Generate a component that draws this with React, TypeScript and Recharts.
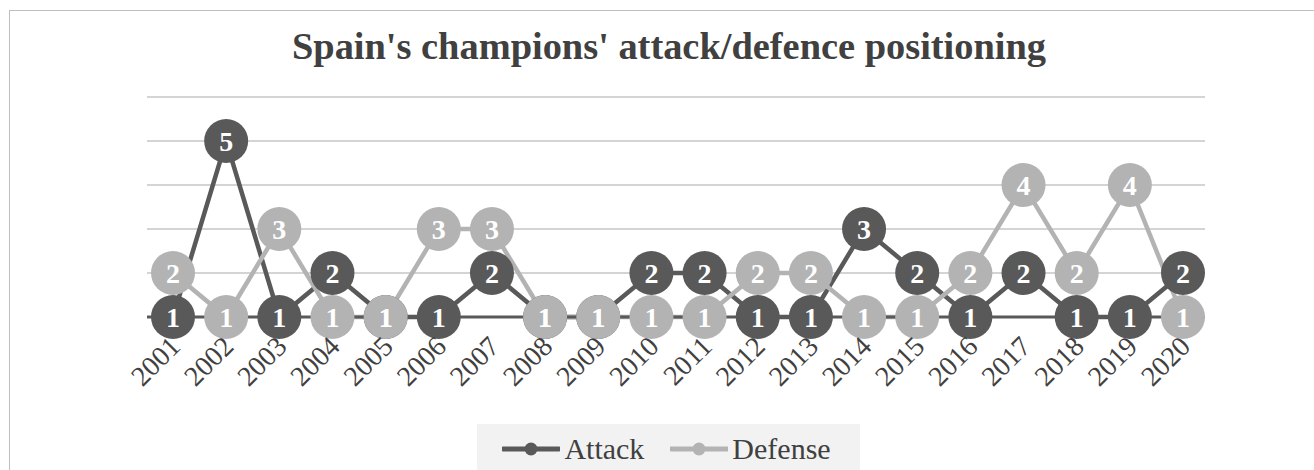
import React from 'react';
import { LineChart, Line, XAxis, YAxis, CartesianGrid, LabelList } from 'recharts';

const years = [
  '2001', '2002', '2003', '2004', '2005', '2006', '2007', '2008', '2009', '2010',
  '2011', '2012', '2013', '2014', '2015', '2016', '2017', '2018', '2019', '2020',
];
const attack = [1, 5, 1, 2, 1, 1, 2, 1, 1, 2, 2, 1, 1, 3, 2, 1, 2, 1, 1, 2];
const defense = [2, 1, 3, 1, 1, 3, 3, 1, 1, 1, 1, 2, 2, 1, 1, 2, 4, 2, 4, 1];
const yTicks = [1, 2, 3, 4, 5, 6];

const ATTACK_COLOR = '#595959';
const DEFENSE_COLOR = '#b3b3b3';
const SERIF = '"Liberation Serif", "Times New Roman", serif';

const data = years.map((year, i) => ({ year, attack: attack[i], defense: defense[i] }));

// rotated year labels under the axis
const YearTick = (props: any) => {
  const { x, payload } = props;
  const ax = x + 9;
  const ay = 306 + 31;
  return (
    <text
      x={ax}
      y={ay}
      transform={`rotate(-45, ${ax}, ${ay})`}
      textAnchor="end"
      fontFamily={SERIF}
      fontSize={28}
      fill="#404040"
    >
      {payload.value}
    </text>
  );
};

const makeDot = (color: string) => (props: any) => {
  const { cx, cy, index } = props;
  return <circle key={`d-${index}`} cx={cx} cy={cy} r={22} fill={color} stroke="none" />;
};

const renderLabel = (props: any) => {
  const { x, y, value, index } = props;
  return (
    <text
      key={`l-${index}`}
      x={x}
      y={y + 10}
      textAnchor="middle"
      fontFamily={SERIF}
      fontWeight="bold"
      fontSize={28}
      fill="#ffffff"
    >
      {value}
    </text>
  );
};

const LegendItem = ({ color, label }: { color: string; label: string }) => (
  <div style={{ display: 'flex', alignItems: 'center', marginRight: 26 }}>
    <svg width={58} height={14} style={{ marginRight: 4 }}>
      <line x1={1} y1={7} x2={57} y2={7} stroke={color} strokeWidth={5} strokeLinecap="round" />
      <circle cx={29} cy={7} r={6.5} fill={color} />
    </svg>
    <span style={{ fontFamily: SERIF, fontSize: 30, color: '#404040', lineHeight: '30px' }}>{label}</span>
  </div>
);

const App: React.FC = () => {
  return (
    <div
      style={{
        position: 'absolute',
        left: 9,
        top: 10,
        width: 1305,
        height: 460,
        borderLeft: '1px solid #bfbfbf',
        borderTop: '1px solid #bfbfbf',
        background: '#ffffff',
        overflow: 'hidden',
      }}
    >
      <div
        style={{
          position: 'absolute',
          top: 13,
          left: 0,
          width: 1318,
          textAlign: 'center',
          fontFamily: SERIF,
          fontWeight: 'bold',
          fontSize: 38.4,
          color: '#404040',
        }}
      >
        Spain's champions' attack/defence positioning
      </div>
      <LineChart
        width={1304}
        height={459}
        data={data}
        margin={{ top: 86, right: 109, bottom: 93, left: 137 }}
      >
        <CartesianGrid horizontal vertical={false} stroke="#d4d4d4" strokeWidth={2} />
        <YAxis hide domain={[1, 6]} ticks={yTicks} type="number" />
        <XAxis
          dataKey="year"
          interval={0}
          padding={{ left: 26, right: 22 }}
          tickLine={false}
          axisLine={{ stroke: ATTACK_COLOR, strokeWidth: 3 }}
          tick={<YearTick />}
          height={60}
        />
        <Line
          dataKey="attack"
          stroke={ATTACK_COLOR}
          strokeWidth={4.5}
          dot={makeDot(ATTACK_COLOR)}
          activeDot={false}
          isAnimationActive={false}
        >
          <LabelList dataKey="attack" content={renderLabel} />
        </Line>
        <Line
          dataKey="defense"
          stroke={DEFENSE_COLOR}
          strokeWidth={4.5}
          dot={makeDot(DEFENSE_COLOR)}
          activeDot={false}
          isAnimationActive={false}
        >
          <LabelList dataKey="defense" content={renderLabel} />
        </Line>
      </LineChart>
      <div
        style={{
          position: 'absolute',
          left: 467,
          top: 413,
          width: 383,
          height: 50,
          background: '#f2f2f2',
          display: 'flex',
          alignItems: 'center',
          justifyContent: 'center',
          paddingLeft: 22,
          boxSizing: 'border-box',
        }}
      >
        <LegendItem color={ATTACK_COLOR} label="Attack" />
        <LegendItem color={DEFENSE_COLOR} label="Defense" />
      </div>
    </div>
  );
};

export default App;
